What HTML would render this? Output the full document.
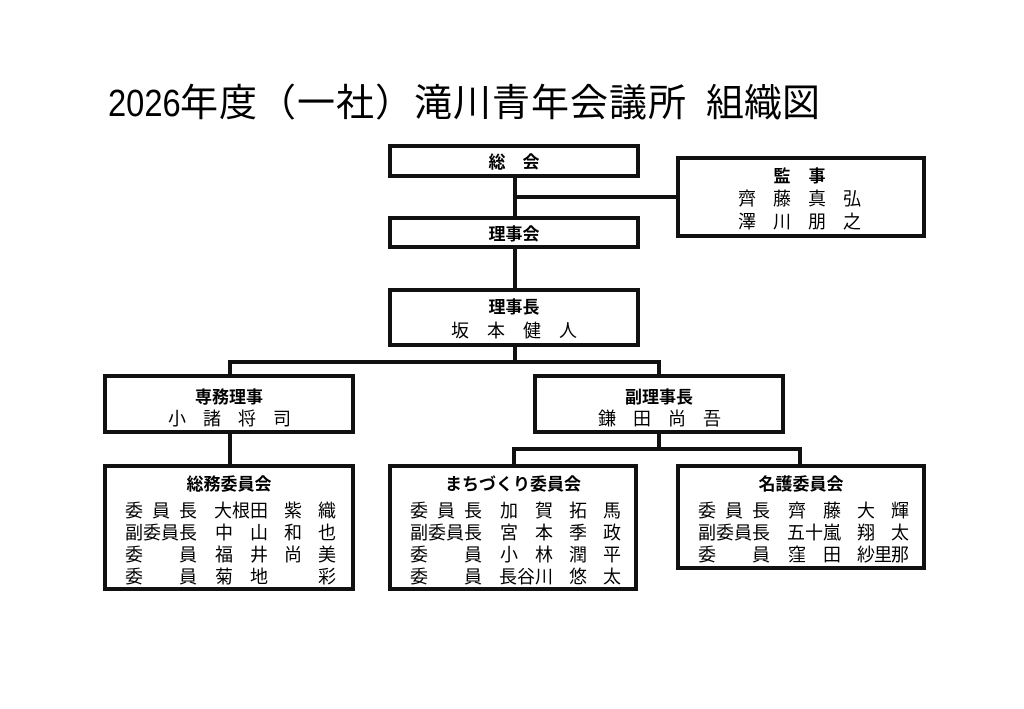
<!DOCTYPE html>
<html><head><meta charset="utf-8"><style>
html,body{margin:0;padding:0;background:#fff;}
body{width:1024px;height:709px;position:relative;overflow:hidden;font-family:"Liberation Sans","Noto Sans CJK JP",sans-serif;color:#000;}
.b{position:absolute;border:4px solid #111;box-sizing:border-box;background:#fff;}
.l{position:absolute;background:#111;}
.c{position:absolute;font-size:18px;line-height:18px;width:18px;text-align:center;white-space:nowrap;}
.h{position:absolute;font-size:17px;line-height:17px;font-weight:bold;text-align:center;white-space:pre;}
.t{position:absolute;top:79px;font-size:38px;line-height:42px;white-space:pre;font-family:"Noto Sans CJK JP",sans-serif;}
</style></head><body>
<div class="t" style="left:108px;"><span style="display:inline-block;transform:scaleX(0.86);transform-origin:0 50%;font-family:'Liberation Sans',sans-serif;">2026</span></div>
<div class="t" style="left:180px;letter-spacing:1px;">年度（一社）滝川青年会議所</div>
<div class="t" style="left:706px;letter-spacing:0px;">組織図</div>

<!-- connectors -->
<div class="l" style="left:513px;top:176px;width:4px;height:42px"></div>
<div class="l" style="left:513px;top:247px;width:4px;height:43px"></div>
<div class="l" style="left:513px;top:345px;width:4px;height:17px"></div>
<div class="l" style="left:515px;top:195px;width:163px;height:4px"></div>
<div class="l" style="left:228px;top:360px;width:433px;height:4px"></div>
<div class="l" style="left:228px;top:362px;width:4px;height:14px"></div>
<div class="l" style="left:657px;top:362px;width:4px;height:14px"></div>
<div class="l" style="left:228px;top:432px;width:4px;height:34px"></div>
<div class="l" style="left:657px;top:432px;width:4px;height:18px"></div>
<div class="l" style="left:512px;top:447px;width:290px;height:4px"></div>
<div class="l" style="left:512px;top:449px;width:4px;height:17px"></div>
<div class="l" style="left:798px;top:449px;width:4px;height:17px"></div>

<!-- boxes -->
<div class="b" style="left:388px;top:144px;width:252px;height:34px"></div>
<div class="b" style="left:388px;top:216px;width:252px;height:33px"></div>
<div class="b" style="left:676px;top:156px;width:250px;height:82px"></div>
<div class="b" style="left:388px;top:288px;width:252px;height:59px"></div>
<div class="b" style="left:103px;top:374px;width:252px;height:60px"></div>
<div class="b" style="left:533px;top:374px;width:252px;height:60px"></div>
<div class="b" style="left:103px;top:464px;width:252px;height:127px"></div>
<div class="b" style="left:388px;top:464px;width:250px;height:127px"></div>
<div class="b" style="left:676px;top:464px;width:250px;height:106px"></div>

<!-- top headings -->
<div class="h" style="left:388px;width:252px;top:154px">総　会</div>
<div class="h" style="left:388px;width:252px;top:226px">理事会</div>
<div class="h" style="left:388px;width:252px;top:299px">理事長</div>
<div class="h" style="left:103px;width:252px;top:389px">専務理事</div>
<div class="h" style="left:533px;width:252px;top:389px">副理事長</div>
<div class="h" style="left:103px;width:252px;top:476px">総務委員会</div>
<div class="h" style="left:388px;width:250px;top:476px">まちづくり委員会</div>
<div class="h" style="left:676px;width:250px;top:476px">名護委員会</div>

<!-- 監事 -->
<span class="c" style="left:773px;top:168px;font-weight:bold;font-size:17px">監</span>
<span class="c" style="left:808px;top:168px;font-weight:bold;font-size:17px">事</span>
<span class="c" style="left:738px;top:190px">齊</span><span class="c" style="left:773px;top:190px">藤</span><span class="c" style="left:808px;top:190px">真</span><span class="c" style="left:843px;top:190px">弘</span>
<span class="c" style="left:738px;top:213px">澤</span><span class="c" style="left:773px;top:213px">川</span><span class="c" style="left:808px;top:213px">朋</span><span class="c" style="left:843px;top:213px">之</span>

<!-- 理事長 -->
<span class="c" style="left:451px;top:322px">坂</span><span class="c" style="left:487px;top:322px">本</span><span class="c" style="left:523px;top:322px">健</span><span class="c" style="left:559px;top:322px">人</span>
<!-- 専務理事 -->
<span class="c" style="left:168px;top:410px">小</span><span class="c" style="left:203px;top:410px">諸</span><span class="c" style="left:238px;top:410px">将</span><span class="c" style="left:273px;top:410px">司</span>
<!-- 副理事長 -->
<span class="c" style="left:598px;top:410px">鎌</span><span class="c" style="left:633px;top:410px">田</span><span class="c" style="left:668px;top:410px">尚</span><span class="c" style="left:703px;top:410px">吾</span>

<!-- 総務委員会 L=103 -->
<span class="c" style="left:125px;top:502px">委</span><span class="c" style="left:152px;top:502px">員</span><span class="c" style="left:179px;top:502px">長</span>
<span class="c" style="left:214px;top:502px">大</span><span class="c" style="left:232px;top:502px">根</span><span class="c" style="left:250px;top:502px">田</span>
<span class="c" style="left:284px;top:502px">紫</span><span class="c" style="left:318px;top:502px">織</span>

<span class="c" style="left:125px;top:524px">副</span><span class="c" style="left:143px;top:524px">委</span><span class="c" style="left:161px;top:524px">員</span><span class="c" style="left:179px;top:524px">長</span>
<span class="c" style="left:215px;top:524px">中</span><span class="c" style="left:250px;top:524px">山</span><span class="c" style="left:284px;top:524px">和</span><span class="c" style="left:318px;top:524px">也</span>

<span class="c" style="left:125px;top:546px">委</span><span class="c" style="left:179px;top:546px">員</span>
<span class="c" style="left:215px;top:546px">福</span><span class="c" style="left:250px;top:546px">井</span><span class="c" style="left:284px;top:546px">尚</span><span class="c" style="left:318px;top:546px">美</span>

<span class="c" style="left:125px;top:568px">委</span><span class="c" style="left:179px;top:568px">員</span>
<span class="c" style="left:215px;top:568px">菊</span><span class="c" style="left:250px;top:568px">地</span><span class="c" style="left:318px;top:568px">彩</span>

<!-- まちづくり委員会 L=388 -->
<span class="c" style="left:410px;top:502px">委</span><span class="c" style="left:437px;top:502px">員</span><span class="c" style="left:464px;top:502px">長</span>
<span class="c" style="left:500px;top:502px">加</span><span class="c" style="left:535px;top:502px">賀</span><span class="c" style="left:569px;top:502px">拓</span><span class="c" style="left:603px;top:502px">馬</span>

<span class="c" style="left:410px;top:524px">副</span><span class="c" style="left:428px;top:524px">委</span><span class="c" style="left:446px;top:524px">員</span><span class="c" style="left:464px;top:524px">長</span>
<span class="c" style="left:500px;top:524px">宮</span><span class="c" style="left:535px;top:524px">本</span><span class="c" style="left:569px;top:524px">季</span><span class="c" style="left:603px;top:524px">政</span>

<span class="c" style="left:410px;top:546px">委</span><span class="c" style="left:464px;top:546px">員</span>
<span class="c" style="left:500px;top:546px">小</span><span class="c" style="left:535px;top:546px">林</span><span class="c" style="left:569px;top:546px">潤</span><span class="c" style="left:603px;top:546px">平</span>

<span class="c" style="left:410px;top:568px">委</span><span class="c" style="left:464px;top:568px">員</span>
<span class="c" style="left:499px;top:568px">長</span><span class="c" style="left:517px;top:568px">谷</span><span class="c" style="left:535px;top:568px">川</span>
<span class="c" style="left:569px;top:568px">悠</span><span class="c" style="left:603px;top:568px">太</span>

<!-- 名護委員会 L=676 -->
<span class="c" style="left:698px;top:502px">委</span><span class="c" style="left:725px;top:502px">員</span><span class="c" style="left:752px;top:502px">長</span>
<span class="c" style="left:788px;top:502px">齊</span><span class="c" style="left:823px;top:502px">藤</span><span class="c" style="left:857px;top:502px">大</span><span class="c" style="left:891px;top:502px">輝</span>

<span class="c" style="left:698px;top:524px">副</span><span class="c" style="left:716px;top:524px">委</span><span class="c" style="left:734px;top:524px">員</span><span class="c" style="left:752px;top:524px">長</span>
<span class="c" style="left:787px;top:524px">五</span><span class="c" style="left:805px;top:524px">十</span><span class="c" style="left:823px;top:524px">嵐</span>
<span class="c" style="left:857px;top:524px">翔</span><span class="c" style="left:891px;top:524px">太</span>

<span class="c" style="left:698px;top:546px">委</span><span class="c" style="left:752px;top:546px">員</span>
<span class="c" style="left:788px;top:546px">窪</span><span class="c" style="left:823px;top:546px">田</span>
<span class="c" style="left:857px;top:546px">紗</span><span class="c" style="left:874px;top:546px">里</span><span class="c" style="left:891px;top:546px">那</span>
</body></html>
